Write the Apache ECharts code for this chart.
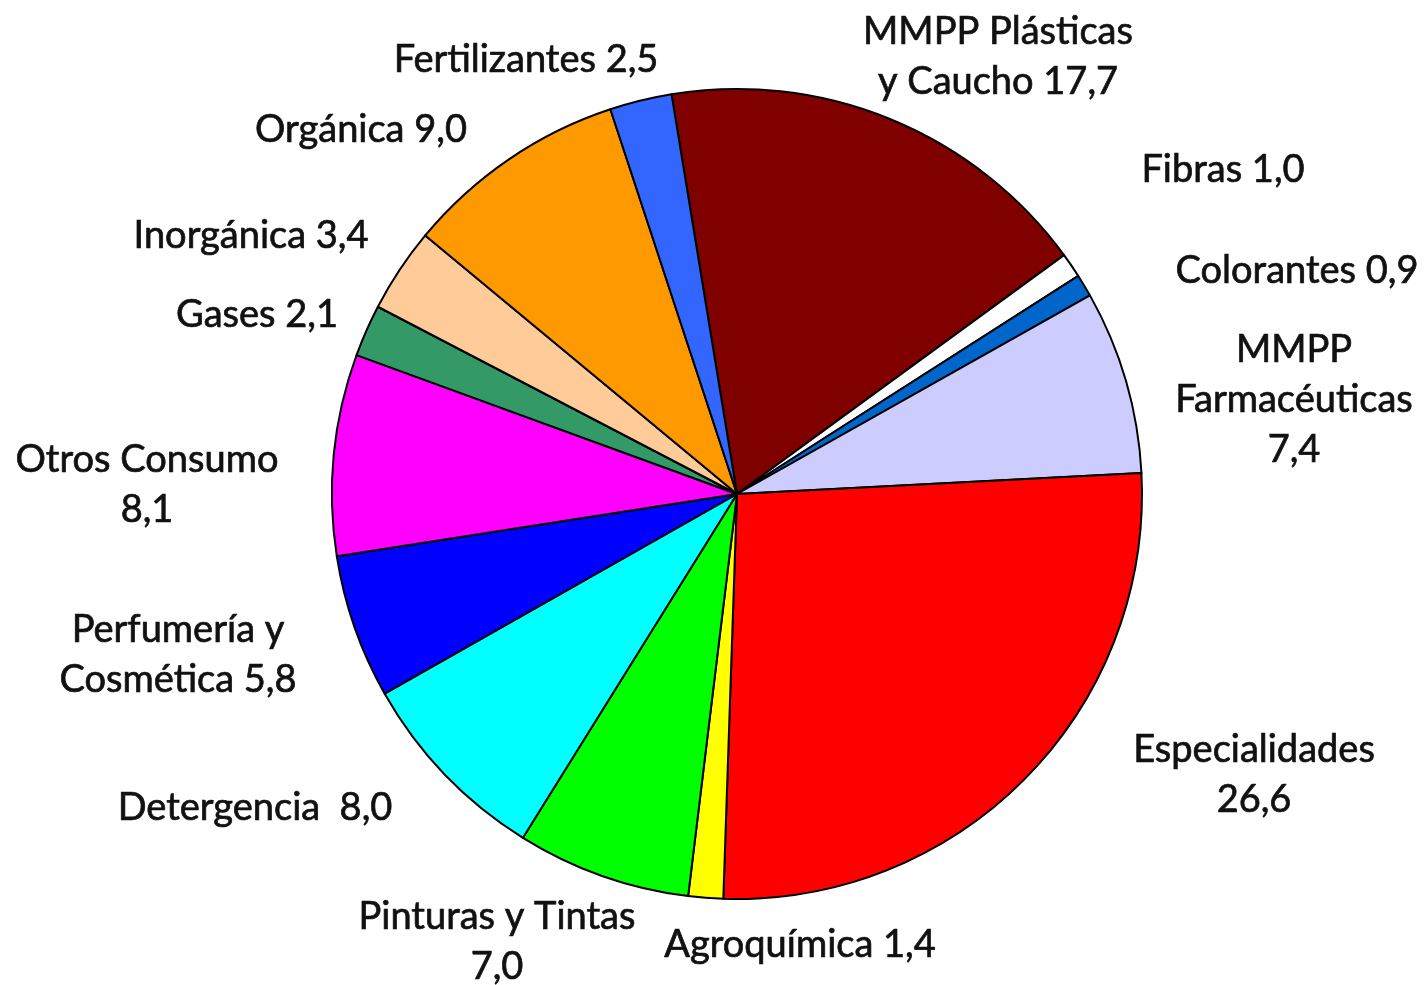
<!DOCTYPE html>
<html>
<head>
<meta charset="utf-8">
<script src="https://cdn.jsdelivr.net/npm/echarts@6/dist/echarts.min.js"></script>
<style>
html,body{margin:0;padding:0;background:#fff;}
#chart{width:1425px;height:985px;}
</style>
</head>
<body>
<div id="chart"></div>
<script>
// Data (clockwise, starting at MMPP Plásticas)
const categories = ["MMPP Plásticas\ny Caucho", "Fibras", "Colorantes", "MMPP\nFarmacéuticas", "Especialidades", "Agroquímica", "Pinturas y Tintas", "Detergencia ", "Perfumería y\nCosmética", "Otros Consumo", "Gases", "Inorgánica", "Orgánica", "Fertilizantes"];
const values = [17.7, 1.0, 0.9, 7.4, 26.6, 1.4, 7.0, 8.0, 5.8, 8.1, 2.1, 3.4, 9.0, 2.5];
const separators = [" ", " ", " ", "\n", "\n", " ", "\n", " ", " ", "\n", " ", " ", " ", " "];
const colors = ["#800000", "#FFFFFF", "#0066CC", "#CCCCFF", "#FF0000", "#FFFF00", "#00FF00", "#00FFFF", "#0000FF", "#FF00FF", "#339966", "#FFCC99", "#FF9900", "#3366FF"];
// Label centre positions (px)
const labelPos = [[998,57],[1223,170],[1297,271],[1294,400],[1254,775],[800,945],[497,942],[255,808],[178,655],[147,485],[257,315],[251,236],[361,130],[526,60]];

const chart = echarts.init(document.getElementById('chart'), null, {renderer:'canvas'});
const fmt = v => v.toFixed(1).replace('.', ',');
chart.setOption({
  animation: false,
  backgroundColor: '#ffffff',
  series: [{
    type: 'pie',
    center: [737, 494],
    radius: [0, 405],
    startAngle: 99.3,
    clockwise: true,
    avoidLabelOverlap: false,
    data: categories.map((c, i) => ({
      name: c,
      value: values[i],
      itemStyle: {color: colors[i]}
    })),
    itemStyle: {borderColor: '#000', borderWidth: 2},
    label: {
      show: true,
      position: 'outside',
      formatter: p => categories[p.dataIndex] + separators[p.dataIndex] + fmt(values[p.dataIndex]),
      fontFamily: 'Lato, "Open Sans", sans-serif',
      fontSize: 38,
      lineHeight: 50,
      color: '#111',
      textBorderColor: '#111',
      textBorderWidth: 0.7,
      align: 'center'
    },
    labelLine: {show: false},
    labelLayout: p => ({
      x: labelPos[p.dataIndex][0],
      y: labelPos[p.dataIndex][1],
      align: 'center',
      verticalAlign: 'middle'
    }),
    emphasis: {disabled: true}
  }]
});
</script>
</body>
</html>
